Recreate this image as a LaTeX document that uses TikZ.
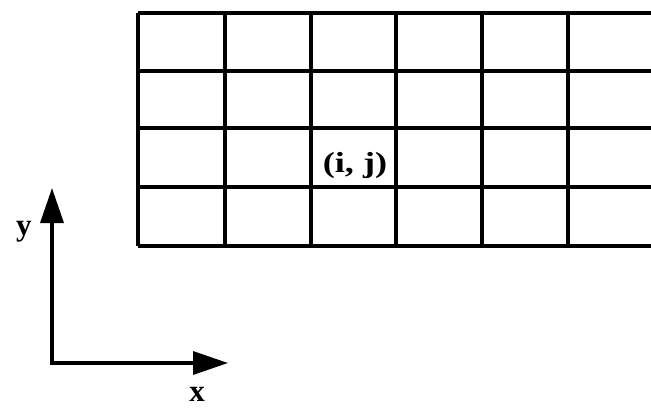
\documentclass[tikz,border=0pt]{standalone}
\usepackage{fontspec}
\setmainfont{Liberation Serif}
\usetikzlibrary{arrows.meta}
\tikzset{
  gridline/.style={line width=3.4pt, black},
  axis/.style={line width=3.4pt, black, -{Triangle[length=35pt,width=23pt]}},
  lbl/.style={inner sep=0pt, anchor=base, font=\fontsize{29}{29}\selectfont\bfseries},
  axlbl/.style={inner sep=0pt, anchor=base, font=\fontsize{31}{31}\selectfont\bfseries},
}
\begin{document}
\begin{tikzpicture}[x=1pt,y=-1pt]
\useasboundingbox (0,0) rectangle (651,410);
\fill[white] (0,0) rectangle (651,410);
\begin{scope}
\clip (0,0) rectangle (651,410);
\foreach \y in {13,71,128,187,246} \draw[gridline] (138,\y) -- (660,\y);
\foreach \x in {138,225,311,396,482,568} \draw[gridline] (\x,13) -- (\x,246);
\end{scope}
\node[lbl] (ij) at (355,172) {\addfontfeatures{FakeStretch=1.25}(i, j)};
\coordinate (O) at (52,363);
\coordinate (ytip) at (52,188);
\coordinate (xtip) at (228,363);
\draw[axis, line cap=rect] (O) -- (ytip);
\draw[axis, line cap=rect] (O) -- (xtip);
\node[axlbl] (ylab) at (24,235) {y};
\node[axlbl] (xlab) at (197,401) {x};
\end{tikzpicture}
\end{document}
